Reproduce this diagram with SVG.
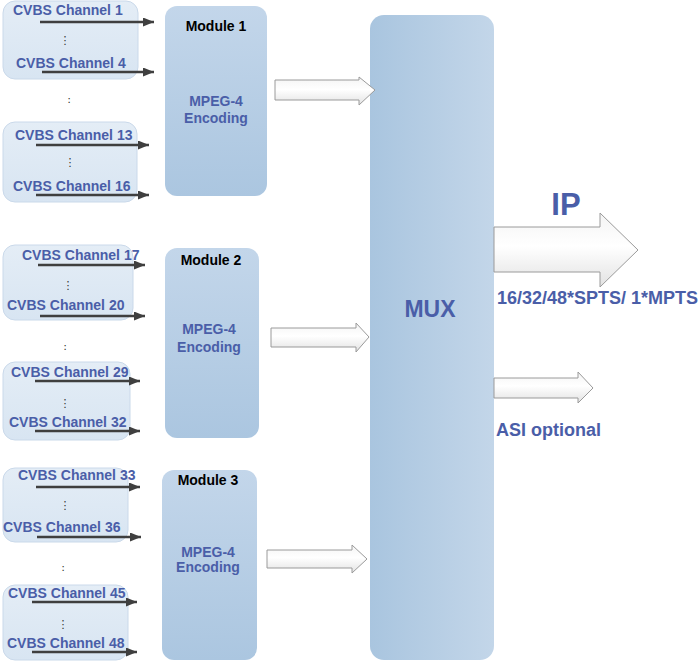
<svg xmlns="http://www.w3.org/2000/svg" width="700" height="663" viewBox="0 0 700 663">
<defs>
<linearGradient id="gMux" x1="0" y1="0" x2="1" y2="0"><stop offset="0" stop-color="#a9c5df"/><stop offset="1" stop-color="#c3d6e9"/></linearGradient>
<linearGradient id="gMod" x1="0" y1="0" x2="0" y2="1"><stop offset="0" stop-color="#c3d6ea"/><stop offset="1" stop-color="#abc6e0"/></linearGradient>
<linearGradient id="gCh" x1="0" y1="0" x2="0" y2="1"><stop offset="0" stop-color="#e4edf6"/><stop offset="1" stop-color="#d8e5f2"/></linearGradient>
<linearGradient id="gArr" x1="0" y1="0" x2="0" y2="1"><stop offset="0" stop-color="#f4f4f4"/><stop offset="0.45" stop-color="#ffffff"/><stop offset="1" stop-color="#e2e2e2"/></linearGradient>
<marker id="ah" markerUnits="userSpaceOnUse" markerWidth="12" markerHeight="10" refX="11" refY="4.5" orient="auto"><path d="M0,0 L11,4.5 L0,9 Z" fill="#3f3f3f"/></marker>
</defs>
<style>
.ch{fill:url(#gCh);stroke:#cad9ea;stroke-width:1}
.mod{fill:url(#gMod)}
.t{font-family:"Liberation Sans",Arial,sans-serif;font-weight:bold;font-size:14px;fill:#4a5ea8}
.m{font-family:"Liberation Sans",Arial,sans-serif;font-weight:bold;font-size:14px;fill:#000}
.d{font-family:"DejaVu Sans",sans-serif;font-size:11px;fill:#333}
.ca{stroke:#3f3f3f;stroke-width:2.5;fill:none;marker-end:url(#ah)}
.ba{fill:url(#gArr);stroke:#9a9a9a;stroke-width:1}
</style>
<rect width="700" height="663" fill="#ffffff"/>

<g id="module1-inputs">
<rect class="ch" x="3" y="1" width="135" height="78" rx="12"/>
<text class="t" x="13" y="15">CVBS Channel 1</text>
<text class="d" x="65" y="44" text-anchor="middle">⋮</text>
<text class="t" x="16" y="68">CVBS Channel 4</text>
<text class="d" x="69" y="103" text-anchor="middle">:</text>
<rect class="ch" x="3" y="122" width="134" height="80" rx="12"/>
<text class="t" x="15" y="140">CVBS Channel 13</text>
<text class="d" x="70" y="166" text-anchor="middle">⋮</text>
<text class="t" x="13" y="191">CVBS Channel 16</text>
</g>

<g id="module1">
<rect class="mod" x="165" y="6" width="102" height="190" rx="12"/>
<text class="m" x="216" y="31" text-anchor="middle">Module 1</text>
<text class="t" x="216" y="106" text-anchor="middle">MPEG-4</text>
<text class="t" x="216" y="123" text-anchor="middle">Encoding</text>
</g>

<g id="module2-inputs">
<rect class="ch" x="3" y="245" width="130" height="75" rx="12"/>
<text class="t" x="22" y="260">CVBS Channel 17</text>
<text class="d" x="68" y="289" text-anchor="middle">⋮</text>
<text class="t" x="7" y="310">CVBS Channel 20</text>
<text class="d" x="65" y="350" text-anchor="middle">:</text>
<rect class="ch" x="3" y="362" width="127" height="78" rx="12"/>
<text class="t" x="11" y="377">CVBS Channel 29</text>
<text class="d" x="65" y="407" text-anchor="middle">⋮</text>
<text class="t" x="9" y="427">CVBS Channel 32</text>
</g>

<g id="module2">
<rect class="mod" x="165" y="248" width="94" height="190" rx="12"/>
<text class="m" x="211" y="265" text-anchor="middle">Module 2</text>
<text class="t" x="209" y="334" text-anchor="middle">MPEG-4</text>
<text class="t" x="209" y="352" text-anchor="middle">Encoding</text>
</g>

<g id="module3-inputs">
<rect class="ch" x="3" y="468" width="125" height="74" rx="12"/>
<text class="t" x="18" y="480">CVBS Channel 33</text>
<text class="d" x="65" y="509" text-anchor="middle">⋮</text>
<text class="t" x="3" y="532">CVBS Channel 36</text>
<text class="d" x="63" y="571" text-anchor="middle">:</text>
<rect class="ch" x="3" y="585" width="125" height="75" rx="12"/>
<text class="t" x="8" y="598">CVBS Channel 45</text>
<text class="d" x="63" y="628" text-anchor="middle">⋮</text>
<text class="t" x="7" y="648">CVBS Channel 48</text>
</g>

<g id="module3">
<rect class="mod" x="162" y="470" width="95" height="190" rx="12"/>
<text class="m" x="208" y="485" text-anchor="middle">Module 3</text>
<text class="t" x="208" y="557" text-anchor="middle">MPEG-4</text>
<text class="t" x="208" y="572" text-anchor="middle">Encoding</text>
</g>

<g id="mux">
<rect x="370" y="15" width="124" height="645" rx="14" fill="url(#gMux)"/>
<text x="430" y="317" text-anchor="middle" font-family="Liberation Sans, Arial, sans-serif" font-weight="bold" font-size="23" fill="#4a5ea8">MUX</text>
</g>

<g id="outputs">
<text x="566" y="215" text-anchor="middle" font-family="Liberation Sans, Arial, sans-serif" font-weight="bold" font-size="31" fill="#4a5ea8">IP</text>
<text x="497" y="304" font-family="Liberation Sans, Arial, sans-serif" font-weight="bold" font-size="18" fill="#4a5ea8">16/32/48*SPTS/ 1*MPTS</text>
<text x="496" y="436" font-family="Liberation Sans, Arial, sans-serif" font-weight="bold" font-size="18" fill="#4a5ea8">ASI optional</text>
</g>

<g id="connectors">
<line class="ca" x1="40" y1="22" x2="154" y2="22"/>
<line class="ca" x1="42" y1="72" x2="154" y2="72"/>
<line class="ca" x1="36" y1="145" x2="149" y2="145"/>
<line class="ca" x1="36" y1="195" x2="149" y2="195"/>
<line class="ca" x1="38" y1="265" x2="145" y2="265"/>
<line class="ca" x1="40" y1="316" x2="145" y2="316"/>
<line class="ca" x1="35" y1="381" x2="140" y2="381"/>
<line class="ca" x1="35" y1="431" x2="140" y2="431"/>
<line class="ca" x1="36" y1="487" x2="140" y2="487"/>
<line class="ca" x1="37" y1="537" x2="141" y2="537"/>
<line class="ca" x1="32" y1="602" x2="137" y2="602"/>
<line class="ca" x1="32" y1="652" x2="137" y2="652"/>
<path class="ba" d="M275,80 H359 V77 L375,90 L359,105 V100 H275 Z"/>
<path class="ba" d="M271,328 H356 V323 L369,337 L356,352 V347 H271 Z"/>
<path class="ba" d="M267,550 H352 V545 L367,559 L352,573 V568 H267 Z"/>
<path class="ba" d="M494,227 H600 V213 L638,250 L600,287 V272 H494 Z"/>
<path class="ba" d="M494,378 H578 V372 L593,388 L578,403 V398 H494 Z"/>
</g>
</svg>
